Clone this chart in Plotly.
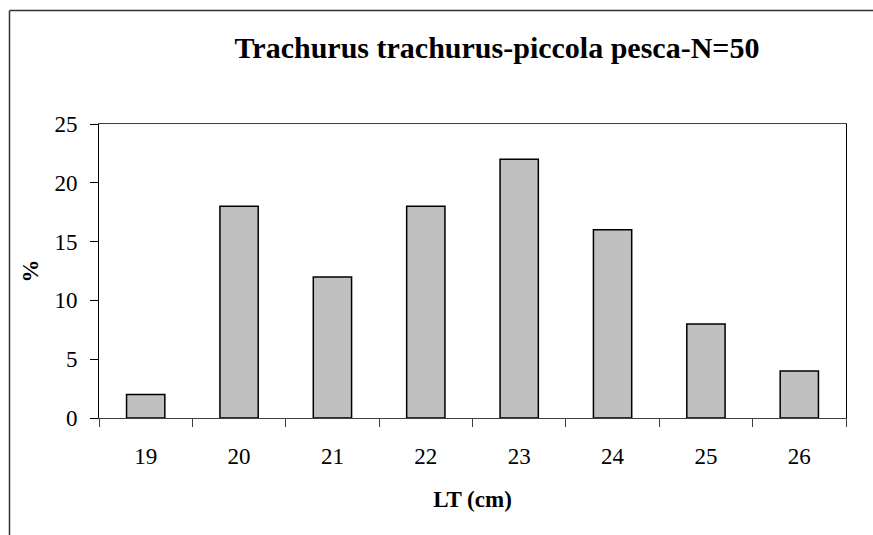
import plotly.graph_objects as go

categories = ["19", "20", "21", "22", "23", "24", "25", "26"]
values = [2, 18, 12, 18, 22, 16, 8, 4]
y_ticks = [0, 5, 10, 15, 20, 25]

W, H = 873, 535
L, R, T, B = 99, 846, 124, 418
pw, ph = R - L, B - T

def px_x(x):
    return (x - L) / pw

def px_y(y):
    return (B - y) / ph

fig = go.Figure(go.Bar(
    x=categories, y=values,
    marker=dict(color="#C0C0C0", line=dict(color="black", width=1.5)),
    width=0.41,
))

font = "Liberation Serif"
fs = 23
fig.update_layout(
    width=W, height=H,
    margin=dict(l=L, r=W - R, t=T, b=H - B, pad=0, autoexpand=False),
    paper_bgcolor="white", plot_bgcolor="white",
    showlegend=False,
    font=dict(family=font, color="black", size=fs),
    title=dict(text="<b>Trachurus trachurus-piccola pesca-N=50</b>",
               x=(231 + 763) / 2 / W, xanchor="center",
               y=1 - 47 / H, yanchor="middle", yref="container",
               font=dict(size=30, family=font)),
    xaxis=dict(type="category", showline=True, linecolor="#404040", linewidth=1,
               mirror=True, ticks="outside", tickson="boundaries", ticklen=8,
               tickcolor="#404040", showgrid=False, automargin=False,
               ticklabelstandoff=17,
               title=dict(text="<b>LT (cm)</b>", font=dict(size=fs, family=font), standoff=23),
               tickfont=dict(size=fs, family=font)),
    yaxis=dict(range=[0, 25], tickvals=y_ticks, showline=True, linecolor="black",
               linewidth=1, mirror=True, ticks="outside", ticklen=8,
               tickcolor="black", showgrid=False, zeroline=False, automargin=False,
               ticklabelstandoff=8,
               title=dict(text="<b>%</b>", font=dict(size=fs, family=font), standoff=9),
               tickfont=dict(size=fs, family=font)),
    shapes=[
        dict(type="line", xref="paper", yref="paper",
             x0=px_x(9.5), x1=px_x(880), y0=px_y(10.5), y1=px_y(10.5),
             line=dict(color="#333333", width=1.5)),
        dict(type="line", xref="paper", yref="paper",
             x0=px_x(9.5), x1=px_x(9.5), y0=px_y(10.5), y1=px_y(540),
             line=dict(color="#333333", width=1.5)),
    ],
)

fig.write_html("out.html", config={"displayModeBar": False},
               post_script="document.body.style.margin='0';document.body.style.overflow='hidden';")
